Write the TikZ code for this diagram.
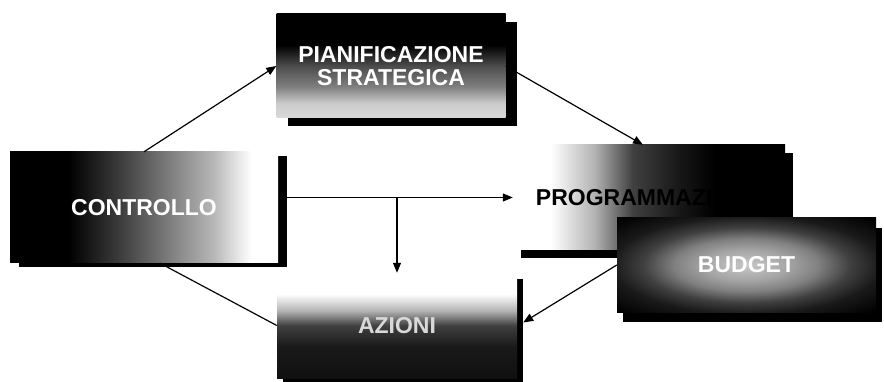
\documentclass[tikz,border=0pt]{standalone}
\usepackage{fontspec}
\setmainfont{Liberation Sans}
\usetikzlibrary{shadows,arrows.meta,calc}

% fills of the five panels (a panel spans the stops 25bp to 75bp)
\pgfdeclareverticalshading{pianshade}{100bp}{color(0bp)=(white!85!black); color(25bp)=(white!85!black);
  color(32bp)=(white!80!black); color(40bp)=(gray); color(50bp)=(gray!60!black);
  color(60bp)=(black); color(100bp)=(black)}
\pgfdeclarehorizontalshading{ctrlshade}{100bp}{color(0bp)=(black); color(36bp)=(black);
  color(46bp)=(gray!50!black); color(55bp)=(gray); color(63bp)=(white!72!black);
  color(70bp)=(white); color(100bp)=(white)}
\pgfdeclarehorizontalshading{progshade}{100bp}{color(0bp)=(white); color(32bp)=(white);
  color(40bp)=(white!70!black); color(47bp)=(gray!50!black); color(55bp)=(black!90);
  color(62bp)=(black); color(100bp)=(black)}
\pgfdeclareverticalshading{azishade}{100bp}{color(0bp)=(black); color(40bp)=(black!90);
  color(50bp)=(gray!50!black); color(57bp)=(white!70!black); color(65bp)=(white); color(100bp)=(white)}
\pgfdeclareradialshading{budgetshade}{\pgfpoint{0bp}{0bp}}{color(0bp)=(white!78!black);
  color(8bp)=(white!65!black); color(14bp)=(gray); color(20bp)=(gray!50!black);
  color(26bp)=(black!90); color(35bp)=(black); color(100bp)=(black)}

\tikzset{
  panel/.style={inner sep=0pt, align=center, shade,
    font=\fontsize{23}{22}\selectfont\bfseries},
  shadowed/.style 2 args={general shadow={fill=black, shadow xshift=#1pt, shadow yshift=-#2pt}},
  link/.style={line width=1.2pt, draw=black},
  arrowed/.style={link, -{Triangle[length=10pt,width=8pt]}}
}

\begin{document}
\begin{tikzpicture}[x=1pt,y=-1pt]
  \useasboundingbox (0,0) rectangle (884,382);
  \fill[white] (0,0) rectangle (884,382);

  % planning box: dark at the top, fading to white
  \node[panel, shadowed={11}{8}, shading=pianshade, text=white,
        minimum width=229pt, minimum height=104pt] (pian) at (391,66)
        {PIANIFICAZIONE\\[1pt]STRATEGICA};

  % control box: dark on the left
  \node[panel, shadowed={9}{4}, shading=ctrlshade, text=white,
        minimum width=268pt, minimum height=111pt] (ctrl) at (144,207.5)
        {CONTROLLO};

  % programming box: dark on the right
  \node[panel, shadowed={8}{8}, shading=progshade, text=black,
        minimum width=272pt, minimum height=105pt] (prog) at (649,197.5)
        {PROGRAMMAZIONE};

  % budget box, overlapping the programming box
  \node[panel, shadowed={6}{10}, shading=budgetshade, text=white,
        minimum width=259pt, minimum height=94pt] (budget) at (746.5,265)
        {BUDGET};

  % actions box: dark at the bottom
  \node[panel, shadowed={6}{6}, shading=azishade, text=white!85!black,
        minimum width=240pt, minimum height=105pt] (azi) at (397,325.5)
        {AZIONI};

  % connectors
  \coordinate (ctrlout) at ($(ctrl.east |- prog.west)+(9,0)$);
  \coordinate (split) at (azi.north |- prog.west);
  \coordinate (ctrlbase) at ($(ctrl.south)+(16,0)$);
  \coordinate (azishadow) at ($(azi.east)+(6,-3)$);

  \draw[arrowed] (ctrl.north) -- (pian.west);
  \draw[arrowed] (pian.east) -- ($(prog.north)+(-6,0)$);
  \draw[arrowed] (ctrlout) -- (prog.west);
  \draw[arrowed] (split) -- (azi.north);
  \draw[link] (ctrlbase) -- (azi.west);
  \draw[arrowed] (budget.west) -- (azishadow);
\end{tikzpicture}
\end{document}
